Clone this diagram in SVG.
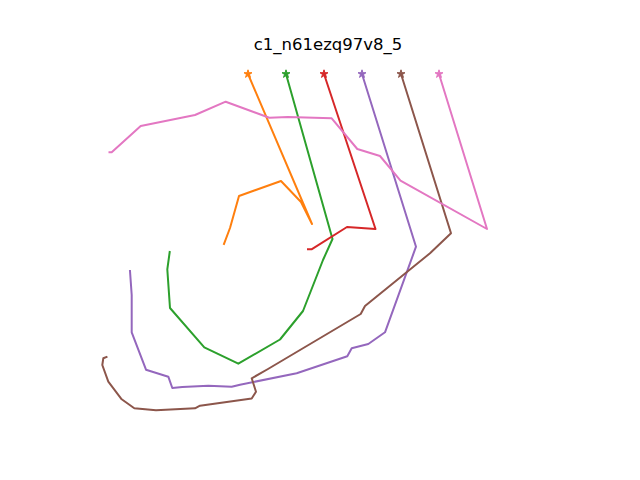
<svg xmlns="http://www.w3.org/2000/svg" width="640" height="480" viewBox="0 0 640 480">
<style>
.ln{fill:none;stroke-width:2;stroke-linejoin:round;stroke-linecap:square}
.t{font-family:"DejaVu Sans",sans-serif;font-size:16.5px;fill:#000}
</style>
<defs>
<polygon id="star" points="0,-4.2 0.94,-1.29 3.99,-1.3 1.52,0.49 2.47,3.4 0,1.6 -2.47,3.4 -1.52,0.49 -3.99,-1.3 -0.94,-1.29"/>
</defs>
<rect width="640" height="480" fill="#fff"/>
<text class="t" x="328" y="50" text-anchor="middle">c1_n61ezq97v8_5</text>
<g id="connectors">
<polyline class="ln" stroke="#ff7f0e" points="248,74 312,224 301,202 281,181 239,196 230,228 224,244"/>
<polyline class="ln" stroke="#2ca02c" points="286,74 332.5,239 323,260 303,311 280,339.5 238.3,363.7 204.3,347.3 170,308 167.3,269.3 169.7,252"/>
<polyline class="ln" stroke="#d62728" points="324,74 375.5,229 347,227 311.5,249.3 308,249.3"/>
<polyline class="ln" stroke="#9467bd" points="362,74 416,246.7 385,332.3 368.3,344 351.7,348.3 347.3,356.3 296.7,373.3 240,384.7 231.7,386.7 208.3,385.7 182.3,387 172.3,388 168.3,376.7 146,369.7 131.7,332.3 131.7,295 130,271"/>
<polyline class="ln" stroke="#8c564b" points="401,74 451,233.3 430,253.3 365,306 360.7,314 268,369 251.7,378.3 256,391.7 251.7,398.5 200,405.7 195,408.3 156,410.3 134.3,408.3 121.7,399.3 108.3,381.7 102.3,365 103.3,358.3 106.5,357"/>
<polyline class="ln" stroke="#e377c2" points="439,74 487,229 400.5,180.7 380,156 357.3,149 331.7,118.3 288,117 269.3,117.7 225.7,101.7 195,115 140.7,126 111.7,152.3 109.5,152.3"/>
</g>
<g id="n_orange"><use href="#star" x="248" y="74" fill="#ff7f0e" stroke="#ff7f0e" stroke-width="1"/></g>
<g id="n_green"><use href="#star" x="286" y="74" fill="#2ca02c" stroke="#2ca02c" stroke-width="1"/></g>
<g id="n_red"><use href="#star" x="324" y="74" fill="#d62728" stroke="#d62728" stroke-width="1"/></g>
<g id="n_purple"><use href="#star" x="362" y="74" fill="#9467bd" stroke="#9467bd" stroke-width="1"/></g>
<g id="n_brown"><use href="#star" x="401" y="74" fill="#8c564b" stroke="#8c564b" stroke-width="1"/></g>
<g id="n_pink"><use href="#star" x="439" y="74" fill="#e377c2" stroke="#e377c2" stroke-width="1"/></g>
</svg>
